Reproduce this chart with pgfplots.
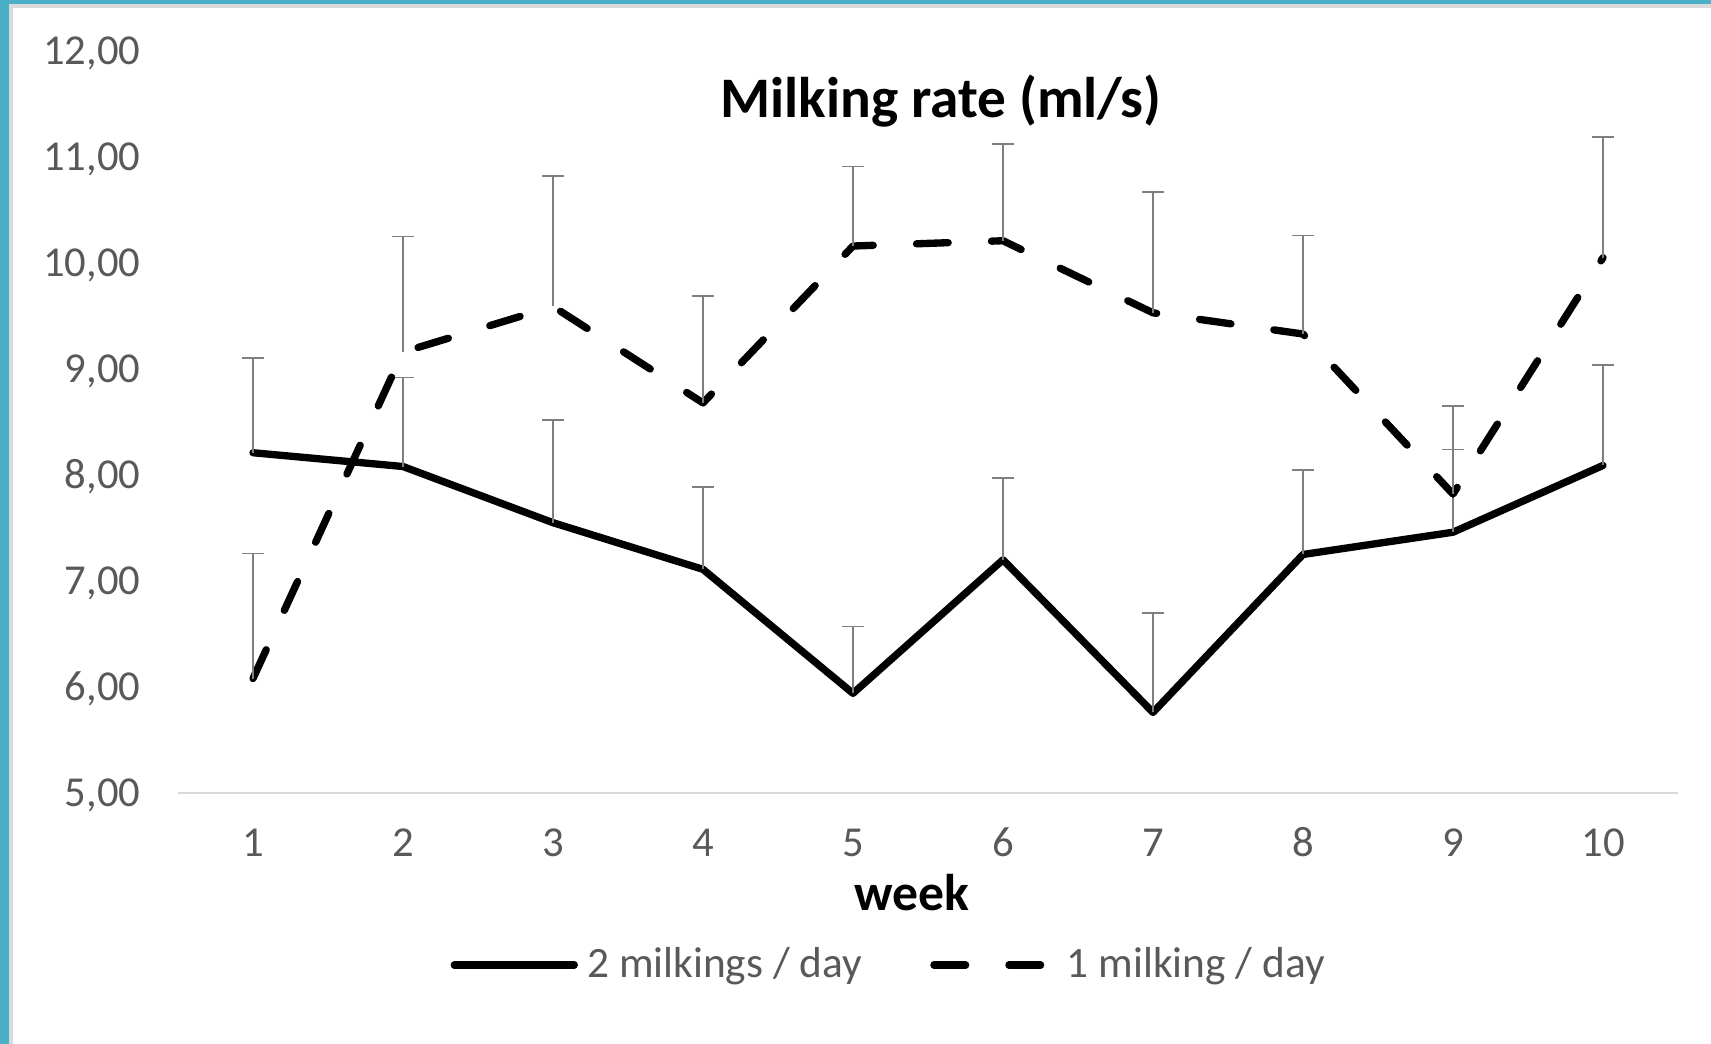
\documentclass[border=0pt]{standalone}
\usepackage{fontspec}
\setmainfont{Carlito}
\usepackage{pgfplots}
\usepackage{pgfplotstable}
\pgfplotsset{compat=1.18}

\definecolor{framecol}{HTML}{4BB0C7}
\definecolor{framegray}{HTML}{DADADA}
\definecolor{ticktxt}{HTML}{595959}
\definecolor{errgray}{HTML}{7F7F7F}
\definecolor{axgray}{HTML}{D9D9D9}

% week, 2 milkings/day (mean, +sd), 1 milking/day (mean, +sd)
\pgfplotstableread{
w   two   etwo  one    eone
1   8.21  0.89  6.08   1.18
2   8.08  0.84  9.16   1.09
3   7.55  0.97  9.59   1.23
4   7.11  0.78  8.68   1.01
5   5.94  0.63  10.16  0.75
6   7.20  0.77  10.21  0.91
7   5.76  0.94  9.53   1.14
8   7.25  0.80  9.33   0.93
9   7.46  0.78  7.82   0.83
10  8.09  0.95  10.05  1.14
}\rates

\begin{document}
\begin{tikzpicture}
\begin{axis}[
    name=ax, at={(0,0)}, anchor=south west,
    scale only axis, width=450pt, height=222.6pt,
    xmin=0.5, xmax=10.5, ymin=5, ymax=12,
    xtick={1,2,...,10}, ytick={5,6,...,12},
    axis lines*=left,
    x axis line style={axgray, line width=0.45pt},
    y axis line style={draw=none},
    major tick length=0pt,
    /pgf/number format/assume math mode=true,
    tick label style={font=\fontsize{12.8}{15}\selectfont, text=ticktxt, inner sep=0pt},
    yticklabel style={/pgf/number format/.cd, fixed, fixed zerofill, precision=2, use comma, /tikz/.cd,
        anchor=base east, xshift=-11.1pt, yshift=-4pt},
    xticklabel style={anchor=base, yshift=-19pt},
    every axis title shift=0pt,
    title={Milking rate (ml/s)},
    title style={at={(axis description cs:0.5087,0.911)}, anchor=base, inner sep=0pt,
        font=\fontsize{17.2}{20}\selectfont\bfseries},
    xlabel={week},
    xlabel style={at={(axis description cs:0.489,-0.159)}, anchor=base, inner sep=0pt,
        font=\fontsize{15.5}{18}\selectfont\bfseries},
    legend columns=2,
    legend cell align=left,
    legend style={at={(axis description cs:0.1813,-0.232)}, anchor=west, draw=none, fill=none,
        inner sep=0pt, nodes={inner sep=0pt}, font=\fontsize{13}{15}\selectfont, text=ticktxt,
        /tikz/every odd column/.append style={column sep=2.8pt},
        /tikz/every even column/.append style={column sep=20.5pt}},
    legend image code/.code={\draw[#1, line cap=round] (0pt,0pt) -- (36pt,0pt);},
]
\addplot[black, line width=2.2pt, line join=round, line cap=round,
    error bars/.cd, y dir=plus, y explicit,
    error bar style={solid, line width=0.55pt, errgray, line cap=butt},
    error mark options={solid, line width=0.55pt, errgray, mark size=3.2pt, rotate=90}]
    table[x=w, y=two, y error=etwo] {\rates};
\addlegendentry{2 milkings / day}
\addplot[black, line width=2.2pt, line join=round, line cap=round,
    dash pattern=on 9.5pt off 13pt,
    error bars/.cd, y dir=plus, y explicit,
    error bar style={solid, line width=0.55pt, errgray, line cap=butt},
    error mark options={solid, line width=0.55pt, errgray, mark size=3.2pt, rotate=90}]
    table[x=w, y=one, y error=eone] {\rates};
\addlegendentry{1 milking / day}
\end{axis}
\begin{scope}[x=0.3pt, y=-0.3pt, shift={(ax.south west)}, shift={(-178,-793)}]
  \pgfresetboundingbox
  \path[use as bounding box] (0,0) rectangle (1711,1044);
  \fill[framegray] (0,0) rectangle (13,1044);
  \fill[framegray] (0,0) rectangle (1711,8);
  \fill[framecol] (0,0) rectangle (9,1044);
  \fill[framecol] (0,0) rectangle (1711,4);
\end{scope}
\end{tikzpicture}
\end{document}
